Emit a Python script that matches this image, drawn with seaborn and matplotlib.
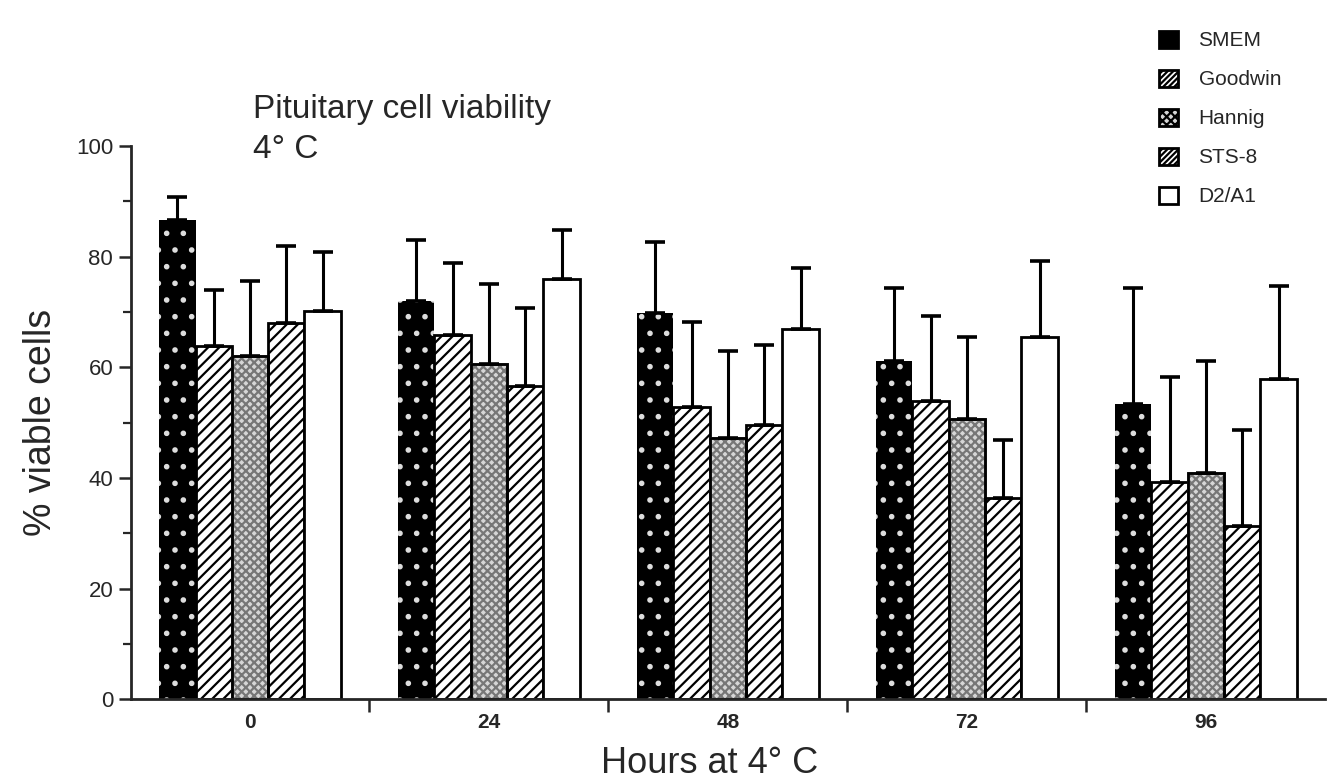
import pandas as pd
import matplotlib
matplotlib.use('Agg')
import matplotlib.pyplot as plt
from matplotlib.patches import Patch
from matplotlib.ticker import MultipleLocator, FixedLocator
import seaborn as sns

# Data (% viable cells, mean and top of error bar)
hours = ['0', '24', '48', '72', '96']
media = ['SMEM', 'Goodwin', 'Hannig', 'STS-8', 'D2/A1']

smem = [86.6, 72.0, 69.8, 61.2, 53.3]
goodwin = [63.8, 65.9, 52.8, 53.9, 39.2]
hannig = [62.1, 60.5, 47.3, 50.7, 40.9]
sts8 = [68.0, 56.6, 49.6, 36.4, 31.3]
d2a1 = [70.1, 76.0, 66.9, 65.5, 57.8]

smem_top = [90.8, 83.0, 82.6, 74.4, 74.4]
goodwin_top = [73.9, 78.8, 68.2, 69.2, 58.2]
hannig_top = [75.6, 75.1, 62.9, 65.4, 61.2]
sts8_top = [81.9, 70.7, 64.0, 46.8, 48.6]
d2a1_top = [80.9, 84.8, 77.9, 79.2, 74.6]

means = [smem, goodwin, hannig, sts8, d2a1]
tops = [smem_top, goodwin_top, hannig_top, sts8_top, d2a1_top]

rows = []
for m, vals, ups in zip(media, means, tops):
    for h, v, u in zip(hours, vals, ups):
        rows.append({'hours': h, 'medium': m, 'viable': v, 'err': u - v})
df = pd.DataFrame(rows)

sns.set_style('ticks')
plt.rcParams['font.family'] = ['Liberation Sans', 'DejaVu Sans']
plt.rcParams['hatch.linewidth'] = 1.6

# bar styles: face, hatch colour (edge), hatch
styles = {
    'SMEM': dict(facecolor='black', edgecolor='#dddddd', hatch='.', lw=0),
    'Goodwin': dict(facecolor='white', edgecolor='black', hatch='///', lw=2),
    'Hannig': dict(facecolor='#d6d6d6', edgecolor='#777777', hatch='xxxx', lw=2),
    'STS-8': dict(facecolor='white', edgecolor='black', hatch='///', lw=2),
    'D2/A1': dict(facecolor='white', edgecolor='black', hatch='', lw=2),
}

fig = plt.figure(figsize=(13.32, 7.84), dpi=100)
ax = fig.add_axes([0.098, 0.108, 0.897, 0.706])

sns.barplot(data=df, x='hours', y='viable', hue='medium', order=hours,
            hue_order=media, width=0.76, errorbar=None, legend=False,
            saturation=1, ax=ax)

for m, cont in zip(media, ax.containers):
    st = styles[m]
    sub = df[df['medium'] == m].set_index('hours').loc[hours]
    xs, ys = [], []
    for bar in cont:
        bar.set_facecolor(st['facecolor'])
        bar.set_edgecolor(st['edgecolor'])
        bar.set_hatch(st['hatch'])
        bar.set_linewidth(st['lw'])
        if m == 'Hannig':
            # dark outline on top of the stippled fill
            ax.add_patch(plt.Rectangle(bar.get_xy(), bar.get_width(), bar.get_height(),
                                       fill=False, edgecolor='black', lw=2, zorder=bar.get_zorder() + 0.1))
        xs.append(bar.get_x() + bar.get_width() / 2)
        ys.append(bar.get_height())
    errs = sub['err'].values
    ax.errorbar(xs, ys, yerr=[[0] * len(errs), errs], fmt='none', ecolor='black',
                elinewidth=2.2, capsize=7, capthick=2.6, zorder=1)

ax.set_ylim(0, 100)
ax.set_xlim(-0.5, 4.5)
ax.yaxis.set_major_locator(MultipleLocator(20))
ax.yaxis.set_minor_locator(MultipleLocator(10))
ax.xaxis.set_minor_locator(FixedLocator([0.5, 1.5, 2.5, 3.5]))
ax.tick_params(axis='y', which='major', length=9, width=1.8, labelsize=16, direction='out')
ax.tick_params(axis='y', which='minor', length=6, width=1.6, direction='out')
ax.tick_params(axis='x', which='major', length=0, labelsize=15, pad=10)
ax.tick_params(axis='x', which='minor', length=9, width=1.8, direction='out')
for lab in ax.get_xticklabels():
    lab.set_fontweight('bold')
for sp in ['left', 'bottom']:
    ax.spines[sp].set_linewidth(2)
sns.despine(ax=ax)

ax.set_xlabel('Hours at 4° C', fontsize=26)
ax.xaxis.set_label_coords(0.485, -0.085)
ax.set_ylabel('% viable cells', fontsize=27, labelpad=12)

fig.text(0.19, 0.835, 'Pituitary cell viability\n4° C', fontsize=24,
         ha='left', va='center', linespacing=1.35)

handles = [Patch(facecolor=styles[m]['facecolor'], edgecolor='black',
                 hatch=styles[m]['hatch'].replace('/', '//'), lw=2) for m in media]
handles[0] = Patch(facecolor='black', edgecolor='black', lw=2)
fig.legend(handles, media, loc='upper left', bbox_to_anchor=(0.856, 0.985),
           frameon=False, fontsize=15, handlelength=0.9, handleheight=0.9,
           labelspacing=0.92, handletextpad=1.0)

fig.savefig('out.png', dpi=100)
